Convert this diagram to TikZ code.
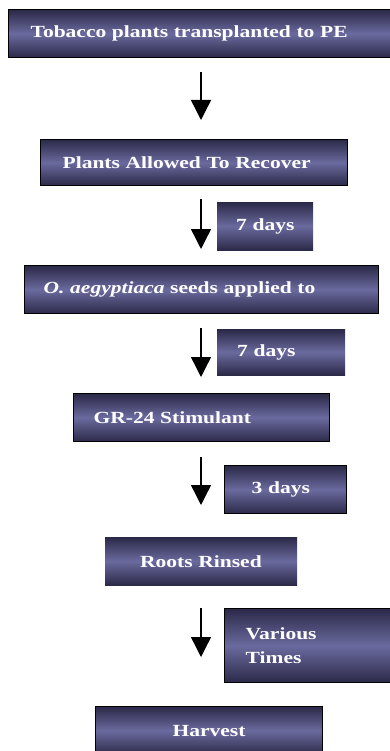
\documentclass[tikz,border=0pt]{standalone}
\usepackage{fontspec}
\setmainfont[FakeStretch=1.265]{Liberation Serif}
\usetikzlibrary{arrows.meta}
\definecolor{dk}{HTML}{2B2948}
\definecolor{md}{HTML}{6A6A9E}
\tikzset{
  box/.style={rectangle, anchor=north west, inner ysep=0pt, align=left,
    font=\bfseries\fontsize{17}{24}\selectfont, text=white,
    top color=dk, bottom color=dk, middle color=md},
  framed/.style={draw=black, line width=1.3pt},
  flow/.style={line width=1.4pt, -{Triangle[width=20pt,length=20pt]}}
}
\begin{document}
\begin{tikzpicture}[x=1pt,y=-1pt]
\useasboundingbox (0,0) rectangle (390,751);
\node[box, framed, minimum height=48, inner xsep=22, text width=340] (b1) at (8,9) {Tobacco plants transplanted to PE};
\node[box, framed, minimum height=46, inner xsep=22, text width=263] (b2) at (40,139) {Plants Allowed To Recover};
\node[box, minimum height=48, inner xsep=19, text width=58] (d1) at (217,202) {\mbox{7 days}};
\node[box, framed, minimum height=48, inner xsep=19, text width=316] (b3) at (24,265) {\textit{O. aegyptiaca} seeds applied to};
\node[box, minimum height=46, inner xsep=20, text width=88] (d2) at (217,329) {7 days};
\node[box, framed, minimum height=48, inner xsep=20, text width=216] (b4) at (73,393) {GR-24 Stimulant};
\node[box, framed, minimum height=48, inner xsep=27, text width=68] (d3) at (224,465) {3 days};
\node[box, minimum height=48, inner xsep=35, text width=122] (b5) at (105,537) {Roots Rinsed};
\node[box, framed, minimum height=74, inner xsep=21, text width=126] (d4) at (224,608) {Various\\Times};
\node[box, framed, minimum height=48, inner xsep=77, text width=73] (b6) at (95,706) {Harvest};
\coordinate (a1s) at (201,72);  \coordinate (a1e) at (201,120);
\coordinate (a2s) at (201,199); \coordinate (a2e) at (201,249);
\coordinate (a3s) at (201,328); \coordinate (a3e) at (201,377);
\coordinate (a4s) at (201,457); \coordinate (a4e) at (201,505);
\coordinate (a5s) at (201,608); \coordinate (a5e) at (201,657);
\draw[flow] (a1s) -- (a1e);
\draw[flow] (a2s) -- (a2e);
\draw[flow] (a3s) -- (a3e);
\draw[flow] (a4s) -- (a4e);
\draw[flow] (a5s) -- (a5e);
\end{tikzpicture}
\end{document}
